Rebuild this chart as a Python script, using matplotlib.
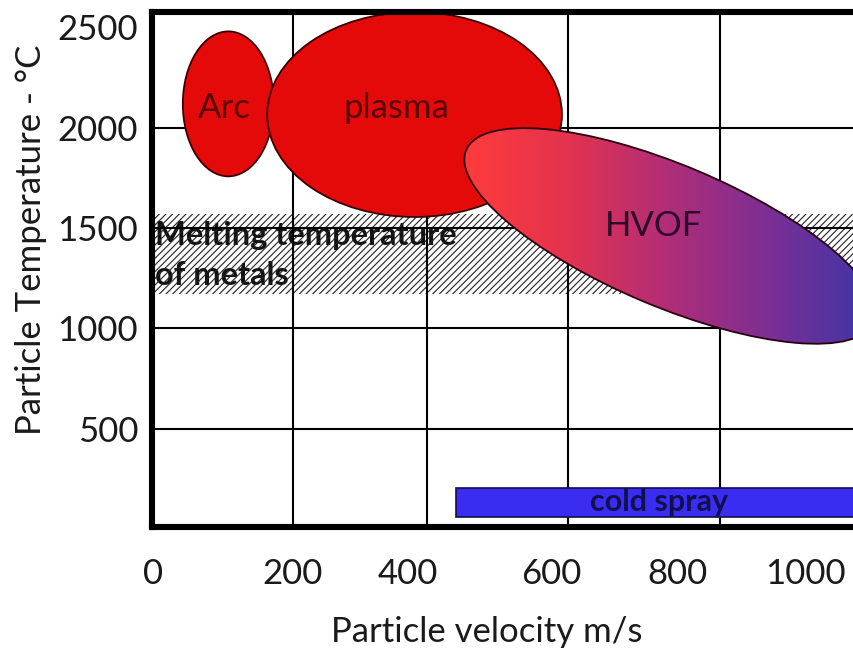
import numpy as np
import matplotlib
matplotlib.use("Agg")
import matplotlib.pyplot as plt
from matplotlib.patches import Ellipse, Rectangle
from matplotlib.colors import LinearSegmentedColormap
from matplotlib.transforms import Affine2D

plt.rcParams['font.family'] = ['Lato', 'DejaVu Sans']
plt.rcParams['hatch.linewidth'] = 0.8

# axis ranges (m/s, deg C)
X_LIM = (0, 1010)
Y_LIM = (10, 2576)

# tick labels as drawn in the original sketch
X_TICK_POS = [1, 201, 366, 571, 750, 933]
X_TICK_LABELS = ['0', '200', '400', '600', '800', '1000']
Y_TICKS = [500, 1000, 1500, 2000, 2500]
GRID_X = [201, 393, 594, 811]
GRID_Y = [500, 1000, 1500, 1998]

# melting range of metals
MELT_LOW, MELT_HIGH = 1171, 1570

# process windows: centre (velocity, temperature), width, height
ARC = dict(center=(109, 2118), width=130, height=722)
PLASMA = dict(center=(375, 2065), width=421, height=1021)
# HVOF is tilted: size given in velocity units, angle in screen degrees
HVOF = dict(center=(740, 1460), width=632, height=202, angle=-22.85)
COLD_SPRAY = dict(v_min=434, v_max=1060, t_min=60, t_max=204)

fig = plt.figure(figsize=(8.54, 6.53), dpi=100)
ax = fig.add_axes([0.178, 0.193, 0.828, 0.7887])
ax.set_xlim(*X_LIM)
ax.set_ylim(*Y_LIM)

# hatched melting band, text sits under hatch and grid
ax.text(4, 1415, "Melting temperature", fontsize=23.5, fontweight='bold',
        color='#111111', ha='left', va='baseline', zorder=1.0)
ax.text(4, 1216, "of metals", fontsize=23.5, fontweight='bold',
        color='#111111', ha='left', va='baseline', zorder=1.0)
ax.add_patch(Rectangle((X_LIM[0], MELT_LOW), X_LIM[1] - X_LIM[0], MELT_HIGH - MELT_LOW,
                       facecolor='none', edgecolor='#222222', hatch='/////',
                       linewidth=0, zorder=1.2))

for gx in GRID_X:
    ax.axvline(gx, color='black', linewidth=1.5, zorder=1.5)
for gy in GRID_Y:
    ax.axhline(gy, color='black', linewidth=1.5, zorder=1.5)

red = '#e40a0a'
edge = '#3a0000'
ax.add_patch(Ellipse(ARC['center'], ARC['width'], ARC['height'],
                     facecolor=red, edgecolor=edge, linewidth=1.3, zorder=2.0))
ax.add_patch(Ellipse(PLASMA['center'], PLASMA['width'], PLASMA['height'],
                     facecolor=red, edgecolor=edge, linewidth=1.3, zorder=2.0))

# HVOF: tilted ellipse drawn in screen-proportional units, gradient fill
bb = ax.get_position()
fw, fh = fig.get_size_inches() * fig.dpi
kx = bb.width * fw / (X_LIM[1] - X_LIM[0])
ky = bb.height * fh / (Y_LIM[1] - Y_LIM[0])
hv_tr = Affine2D().scale(1, kx / ky).translate(*HVOF['center']) + ax.transData
hv = Ellipse((0, 0), HVOF['width'], HVOF['height'], angle=HVOF['angle'],
             facecolor='none', edgecolor='#2a0010', linewidth=1.3,
             transform=hv_tr, zorder=2.2)
ax.add_patch(hv)
hv_cmap = LinearSegmentedColormap.from_list(
    'hvof', ['#ff3b3b', '#e3334f', '#b02d78', '#7a2f95', '#3a36a8'])
grad = np.linspace(0, 1, 256).reshape(1, -1)
im = ax.imshow(grad, cmap=hv_cmap, aspect='auto', zorder=2.1,
               extent=[446, 1034, 922, 1998], interpolation='bicubic')
im.set_clip_path(hv)

ax.add_patch(Rectangle((COLD_SPRAY['v_min'], COLD_SPRAY['t_min']),
                       COLD_SPRAY['v_max'] - COLD_SPRAY['v_min'],
                       COLD_SPRAY['t_max'] - COLD_SPRAY['t_min'],
                       facecolor='#3b2cf2', edgecolor='#10104a', linewidth=1.2,
                       zorder=2.0, clip_on=False))

ax.text(104, 2048, "Arc", fontsize=25, color='#5a0505', ha='center', va='baseline', zorder=3)
ax.text(349, 2048, "plasma", fontsize=25, color='#5a0505', ha='center', va='baseline', zorder=3)
ax.text(716, 1460, "HVOF", fontsize=25, color='#2e0a2a', ha='center', va='baseline', zorder=3)
ax.text(724, 132, "cold spray", fontsize=22, fontweight='bold', color='#101050',
        ha='center', va='center', zorder=3)

ax.set_xlim(*X_LIM)
ax.set_ylim(*Y_LIM)
ax.set_xticks(X_TICK_POS, X_TICK_LABELS)
ax.set_yticks(Y_TICKS)
ax.tick_params(axis='both', length=0, labelsize=25, colors='#1a1a1a')
ax.tick_params(axis='x', pad=22)
ax.tick_params(axis='y', pad=10)

for s in ax.spines.values():
    s.set_linewidth(4.4)
    s.set_color('black')
    s.set_zorder(5)
ax.spines['right'].set_visible(False)

ax.set_xlabel("Particle velocity m/s", fontsize=25, color='#1a1a1a')
ax.set_ylabel("Particle Temperature - °C", fontsize=25, color='#1a1a1a')
ax.xaxis.set_label_coords(0.474, -0.172)
ax.yaxis.set_label_coords(-0.149, 0.557)

fig.savefig("out.png", dpi=100)
